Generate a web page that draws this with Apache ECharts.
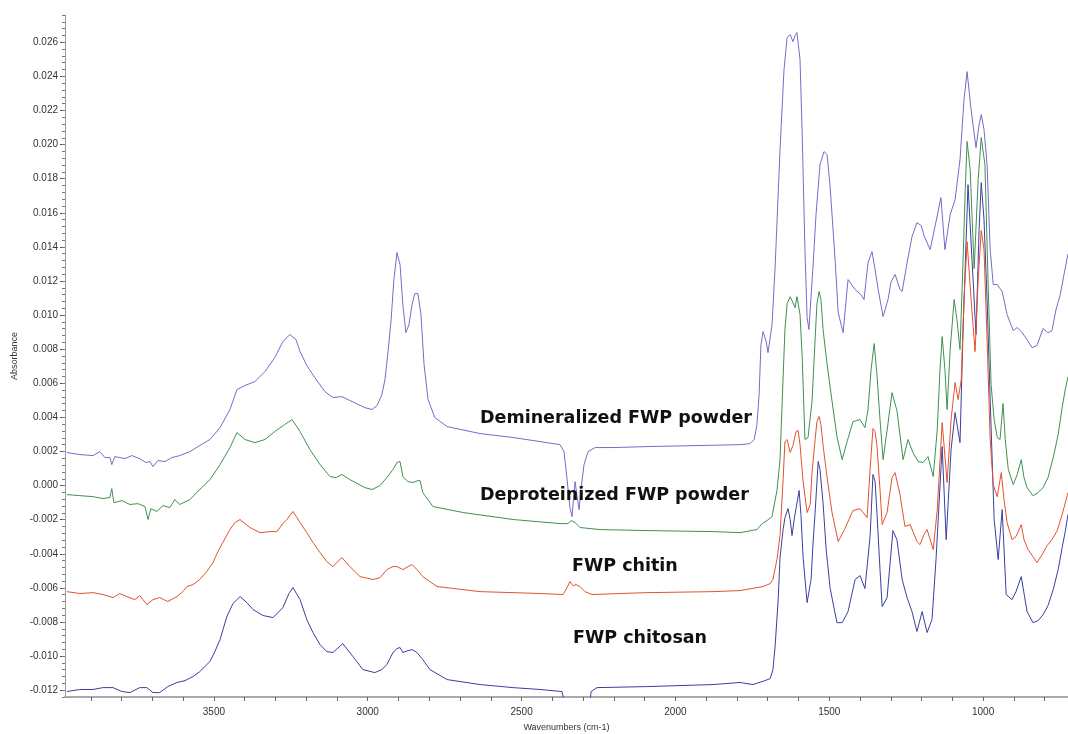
<!DOCTYPE html>
<html><head><meta charset="utf-8">
<script src="https://cdn.jsdelivr.net/npm/echarts@6/dist/echarts.min.js"></script>
<style>html,body{margin:0;padding:0;background:#fff}#c{width:1068px;height:734px}</style>
</head><body><div id="c"></div>
<script>
// Wavenumber (cm-1), absorbance pairs
const demineralized = [
[3978,0.00194],[3936,0.00182],[3893,0.00176],[3871,0.00199],[3854,0.00164],[3838,0.00164],[3832,0.00123],[3822,0.0017],[3789,0.00158],[3767,0.00176],[3741,0.00158],[3721,0.00135],[3708,0.00141],[3698,0.00111],[3682,0.00147],[3659,0.00141],[3637,0.00164],[3611,0.00176],[3578,0.00199],[3546,0.00235],[3513,0.0027],[3480,0.0034],[3448,0.00446],[3425,0.00563],[3399,0.00587],[3367,0.0061],[3334,0.00669],[3302,0.00751],[3276,0.00845],[3253,0.00886],[3233,0.00856],[3220,0.00786],[3198,0.00704],[3172,0.00633],[3139,0.00551],[3113,0.00516],[3084,0.00522],[3058,0.00499],[3009,0.00457],[2986,0.00446],[2970,0.00469],[2954,0.00534],[2944,0.00622],[2934,0.00786],[2924,0.00974],[2915,0.01208],[2905,0.01367],[2895,0.01296],[2886,0.01062],[2876,0.00897],[2866,0.00944],[2856,0.01062],[2847,0.01126],[2837,0.01126],[2827,0.01003],[2817,0.0071],[2804,0.00504],[2782,0.00399],[2742,0.00346],[2635,0.00305],[2528,0.00282],[2440,0.00258],[2375,0.0024],[2362,0.00199],[2352,0.00035],[2343,-0.00129],[2336,-0.00182],[2330,-0.00053],[2326,0.00023],[2320,-0.00059],[2313,-0.00141],[2307,-0.00023],[2297,0.00123],[2284,0.00199],[2261,0.00223],[2203,0.00223],[2083,0.00229],[1920,0.00235],[1790,0.0024],[1758,0.00246],[1744,0.0027],[1735,0.00358],[1728,0.00534],[1722,0.00827],[1715,0.00903],[1705,0.00845],[1699,0.0078],[1686,0.00944],[1676,0.01279],[1660,0.01971],[1647,0.0244],[1637,0.02628],[1627,0.02645],[1618,0.02604],[1611,0.02639],[1605,0.02657],[1595,0.02498],[1588,0.02064],[1579,0.01384],[1572,0.00985],[1566,0.00915],[1553,0.01279],[1543,0.01589],[1530,0.01883],[1517,0.01959],[1507,0.01941],[1497,0.01748],[1481,0.01325],[1471,0.01015],[1455,0.00897],[1439,0.01208],[1416,0.0115],[1397,0.0112],[1387,0.01091],[1374,0.01308],[1361,0.01372],[1351,0.01267],[1341,0.0115],[1325,0.00991],[1309,0.01091],[1299,0.01196],[1286,0.01238],[1270,0.0115],[1263,0.01138],[1247,0.01308],[1231,0.0146],[1215,0.01542],[1201,0.01525],[1192,0.01466],[1172,0.01384],[1153,0.01548],[1137,0.01689],[1124,0.01384],[1107,0.01589],[1091,0.01677],[1075,0.01912],[1062,0.02264],[1052,0.02428],[1039,0.02205],[1023,0.01982],[1013,0.02117],[1006,0.02176],[997,0.02088],[987,0.01883],[977,0.01384],[967,0.01179],[954,0.01179],[938,0.01138],[922,0.01003],[902,0.00909],[889,0.00927],[873,0.00897],[857,0.00856],[841,0.00809],[825,0.00821],[805,0.00921],[789,0.00897],[776,0.00909],[763,0.01032],[750,0.01114],[737,0.01238],[724,0.0136]
];
const deproteinized = [
[3978,-0.00053],[3936,-0.00059],[3893,-0.00065],[3861,-0.00076],[3838,-0.0007],[3832,-0.00018],[3825,-0.001],[3799,-0.00088],[3773,-0.00111],[3747,-0.00106],[3724,-0.00123],[3714,-0.00199],[3705,-0.00135],[3685,-0.00152],[3666,-0.00117],[3643,-0.00129],[3627,-0.00082],[3611,-0.00111],[3578,-0.00082],[3546,-0.00023],[3513,0.00035],[3480,0.00123],[3448,0.00223],[3425,0.00311],[3399,0.0027],[3367,0.00252],[3334,0.0027],[3302,0.00317],[3270,0.00358],[3246,0.00387],[3220,0.00317],[3188,0.00211],[3155,0.00123],[3123,0.00053],[3103,0.00047],[3084,0.00065],[3058,0.00035],[3009,-0.00012],[2986,-0.00023],[2960,0.0],[2938,0.00047],[2918,0.00094],[2905,0.00135],[2895,0.00141],[2886,0.00053],[2869,0.00023],[2853,0.00018],[2837,0.00029],[2830,0.00029],[2821,-0.00041],[2788,-0.00123],[2690,-0.00158],[2528,-0.00199],[2375,-0.00223],[2349,-0.00223],[2339,-0.00205],[2326,-0.00217],[2310,-0.00246],[2245,-0.00258],[2092,-0.00264],[1878,-0.0027],[1790,-0.00276],[1735,-0.00258],[1718,-0.00223],[1702,-0.00205],[1686,-0.00182],[1670,-0.00029],[1660,0.00152],[1653,0.00493],[1644,0.00915],[1637,0.01067],[1627,0.01108],[1621,0.01097],[1611,0.01044],[1605,0.01108],[1595,0.01003],[1588,0.00757],[1579,0.0027],[1569,0.00282],[1556,0.00493],[1546,0.00856],[1540,0.01067],[1533,0.01138],[1527,0.01091],[1520,0.00915],[1507,0.0071],[1497,0.00575],[1475,0.00287],[1458,0.00152],[1442,0.00258],[1423,0.00375],[1400,0.00387],[1384,0.0034],[1374,0.00446],[1364,0.0068],[1354,0.00833],[1345,0.00651],[1335,0.00387],[1325,0.00152],[1309,0.00364],[1296,0.00545],[1280,0.0044],[1260,0.00152],[1244,0.0027],[1228,0.00194],[1211,0.00141],[1195,0.00135],[1179,0.0017],[1162,0.00053],[1149,0.00328],[1140,0.0068],[1133,0.00874],[1124,0.0068],[1117,0.00446],[1107,0.00798],[1094,0.01091],[1085,0.00974],[1075,0.00798],[1065,0.01325],[1058,0.01736],[1052,0.02018],[1042,0.01853],[1029,0.01273],[1016,0.01795],[1006,0.02041],[994,0.01883],[984,0.01208],[974,0.00592],[964,0.00387],[954,0.00282],[945,0.0027],[935,0.00481],[928,0.0027],[918,0.00094],[902,0.00006],[889,0.00065],[876,0.00152],[867,0.00047],[857,-0.00012],[838,-0.00059],[821,-0.00041],[805,-0.00012],[789,0.00047],[772,0.00164],[756,0.00299],[743,0.00457],[733,0.00563],[724,0.00639]
];
const chitin = [
[3978,-0.00622],[3936,-0.00633],[3893,-0.00628],[3861,-0.00639],[3828,-0.00657],[3806,-0.00633],[3783,-0.00651],[3757,-0.00669],[3741,-0.00645],[3718,-0.00698],[3698,-0.00669],[3676,-0.00657],[3650,-0.0068],[3620,-0.00651],[3601,-0.00622],[3588,-0.00592],[3568,-0.00581],[3546,-0.00551],[3523,-0.00504],[3503,-0.00452],[3487,-0.00387],[3471,-0.00334],[3448,-0.00258],[3432,-0.00217],[3415,-0.00199],[3399,-0.00223],[3383,-0.00246],[3350,-0.00276],[3318,-0.0027],[3295,-0.0027],[3276,-0.00223],[3263,-0.00199],[3243,-0.00152],[3230,-0.00188],[3220,-0.00217],[3198,-0.00276],[3178,-0.00334],[3155,-0.00393],[3133,-0.00446],[3113,-0.00475],[3084,-0.00422],[3058,-0.00475],[3025,-0.00534],[2983,-0.00551],[2960,-0.0054],[2938,-0.00493],[2918,-0.00475],[2905,-0.00475],[2886,-0.00493],[2869,-0.00475],[2856,-0.00463],[2840,-0.00493],[2821,-0.00534],[2798,-0.00563],[2775,-0.00592],[2635,-0.00622],[2528,-0.00628],[2440,-0.00633],[2365,-0.00639],[2352,-0.00598],[2343,-0.00563],[2333,-0.00587],[2323,-0.00581],[2310,-0.00592],[2294,-0.00622],[2271,-0.00639],[2180,-0.00633],[2092,-0.00628],[1878,-0.00622],[1790,-0.00616],[1715,-0.00592],[1692,-0.00575],[1683,-0.00551],[1670,-0.00434],[1660,-0.00293],[1650,0.00035],[1644,0.00258],[1637,0.0027],[1627,0.00194],[1618,0.00235],[1608,0.00317],[1601,0.00323],[1595,0.0024],[1585,0.00023],[1572,-0.00158],[1562,-0.00111],[1556,0.00076],[1546,0.0027],[1540,0.00375],[1533,0.00405],[1527,0.00358],[1520,0.00235],[1507,0.00047],[1491,-0.00158],[1471,-0.00328],[1449,-0.00252],[1423,-0.00147],[1400,-0.00135],[1377,-0.00188],[1367,0.001],[1358,0.00334],[1351,0.00317],[1345,0.00235],[1335,-0.00023],[1328,-0.00229],[1312,-0.00158],[1296,0.00047],[1286,0.00076],[1270,-0.00053],[1254,-0.0024],[1237,-0.00229],[1228,-0.0027],[1215,-0.00328],[1205,-0.00346],[1192,-0.00287],[1182,-0.00258],[1162,-0.00375],[1149,-0.00141],[1133,0.00369],[1117,0.00018],[1104,0.00387],[1091,0.00604],[1081,0.00504],[1071,0.00622],[1062,0.01091],[1052,0.01431],[1039,0.01091],[1026,0.00786],[1016,0.01208],[1006,0.01496],[997,0.01384],[987,0.00856],[977,0.0027],[967,0.00006],[954,-0.00065],[941,0.00076],[932,-0.00082],[922,-0.00217],[906,-0.00317],[893,-0.00299],[876,-0.00229],[867,-0.00317],[854,-0.00375],[838,-0.00416],[825,-0.00452],[808,-0.00405],[792,-0.00352],[776,-0.00317],[759,-0.00264],[743,-0.0017],[724,-0.00041]
];
const chitosan = [
[3978,-0.01208],[3936,-0.01196],[3893,-0.01196],[3861,-0.01185],[3828,-0.01185],[3799,-0.01208],[3773,-0.01214],[3741,-0.01185],[3718,-0.01185],[3698,-0.01214],[3676,-0.01214],[3650,-0.01179],[3620,-0.01155],[3594,-0.01144],[3568,-0.0112],[3546,-0.01091],[3513,-0.01032],[3497,-0.00974],[3480,-0.00903],[3458,-0.00768],[3438,-0.00692],[3415,-0.00651],[3393,-0.00686],[3373,-0.00727],[3341,-0.00762],[3308,-0.00774],[3276,-0.00716],[3256,-0.00633],[3243,-0.00598],[3230,-0.00639],[3220,-0.00669],[3198,-0.00786],[3178,-0.00862],[3155,-0.00933],[3133,-0.00974],[3113,-0.00979],[3081,-0.00927],[3048,-0.01003],[3016,-0.01079],[2977,-0.01097],[2954,-0.01079],[2938,-0.0105],[2918,-0.00979],[2905,-0.00956],[2895,-0.0095],[2886,-0.00979],[2869,-0.00968],[2856,-0.00962],[2840,-0.00979],[2821,-0.01021],[2798,-0.01079],[2742,-0.01138],[2635,-0.01167],[2528,-0.01185],[2440,-0.01196],[2369,-0.01208],[2362,-0.01255],[2355,-0.01372],[2326,-0.0149],[2294,-0.0149],[2281,-0.01314],[2274,-0.01208],[2255,-0.01185],[2092,-0.01179],[1878,-0.01167],[1790,-0.01155],[1748,-0.01167],[1709,-0.01144],[1692,-0.01132],[1683,-0.01079],[1676,-0.00944],[1666,-0.00669],[1660,-0.00422],[1650,-0.00258],[1644,-0.00188],[1634,-0.00135],[1627,-0.00199],[1621,-0.00293],[1614,-0.00199],[1608,-0.00135],[1598,-0.00029],[1592,-0.0017],[1585,-0.00422],[1572,-0.00686],[1559,-0.00551],[1553,-0.00346],[1546,-0.00158],[1536,0.00141],[1530,0.00094],[1520,-0.00106],[1510,-0.00375],[1497,-0.00604],[1475,-0.00804],[1458,-0.00804],[1439,-0.00739],[1416,-0.00551],[1400,-0.00528],[1384,-0.00604],[1367,-0.00293],[1358,0.00065],[1351,0.00023],[1345,-0.00158],[1335,-0.00493],[1328,-0.0071],[1312,-0.00657],[1293,-0.00264],[1280,-0.00317],[1263,-0.00551],[1247,-0.00657],[1231,-0.00739],[1215,-0.00856],[1198,-0.00739],[1182,-0.00862],[1166,-0.00786],[1153,-0.00434],[1133,0.00229],[1120,-0.00317],[1104,0.00211],[1091,0.00428],[1075,0.00252],[1065,0.00915],[1049,0.01765],[1036,0.01325],[1023,0.00886],[1013,0.01501],[1006,0.01777],[997,0.0156],[987,0.01091],[977,0.00504],[964,-0.00199],[951,-0.00434],[938,-0.00141],[925,-0.00639],[906,-0.00669],[893,-0.00622],[876,-0.00534],[857,-0.00739],[838,-0.00804],[821,-0.00792],[805,-0.00757],[789,-0.00704],[772,-0.0061],[756,-0.00493],[743,-0.00364],[733,-0.0027],[724,-0.0017]
];
const seriesNames = ['Demineralized FWP powder','Deproteinized FWP powder','FWP chitin','FWP chitosan'];
const seriesColors = ['#7b68c9','#3f9150','#e2522e','#3a3f9e'];
const xTickLabels = [1000,1500,2000,2500,3000,3500];
const yTickLabels = [-0.012,-0.010,-0.008,-0.006,-0.004,-0.002,0.000,0.002,0.004,0.006,0.008,0.010,0.012,0.014,0.016,0.018,0.020,0.022,0.024,0.026];

const xMinor = []; for (let v = 800; v <= 3900; v += 100) xMinor.push(v);
const yMinor = []; for (let i = -31; i <= 69; i++) yMinor.push(+(i*0.0004).toFixed(4));

const X_MIN = 724, X_MAX = 3984, Y_MIN = -0.0124, Y_MAX = 0.0276;
const chart = echarts.init(document.getElementById('c'), null, {renderer:'canvas'});
const labelFont = {fontFamily:'Liberation Sans, Arial, sans-serif', fontSize:10, color:'#333'};
const annotations = [
  {text: seriesNames[0], left: 480, top: 409},
  {text: seriesNames[1], left: 480, top: 486},
  {text: seriesNames[2], left: 572, top: 557},
  {text: seriesNames[3], left: 573, top: 629}
];
chart.setOption({
  animation:false,
  backgroundColor:'#ffffff',
  grid:{left:65, right:0, top:15, bottom:37, containLabel:false, outerBoundsMode:'none'},
  xAxis:[{
    type:'value', min:X_MIN, max:X_MAX, inverse:true,
    name:'Wavenumbers (cm-1)', nameLocation:'middle', nameGap:26,
    nameTextStyle:{fontFamily:'Liberation Sans, Arial, sans-serif', fontSize:9, color:'#333'},
    axisLine:{show:true, onZero:false, lineStyle:{color:'#aaaaaa', width:2}},
    axisTick:{show:true, customValues:xMinor, length:4, lineStyle:{color:'#666'}},
    axisLabel:{show:true, customValues:xTickLabels, margin:10, formatter:v=>String(v), ...labelFont},
    splitLine:{show:false}
  }],
  yAxis:[{
    type:'value', min:Y_MIN, max:Y_MAX, position:'left',
    name:'Absorbance', nameLocation:'middle', nameGap:46, nameRotate:90,
    nameTextStyle:{fontFamily:'Liberation Sans, Arial, sans-serif', fontSize:9, color:'#333'},
    axisLine:{show:true, onZero:false, lineStyle:{color:'#999999', width:1}},
    axisTick:{show:true, customValues:yTickLabels, length:5, lineStyle:{color:'#555'}},
    axisLabel:{show:true, customValues:yTickLabels, margin:7, formatter:v=>v.toFixed(3), ...labelFont},
    splitLine:{show:false}
  },{
    type:'value', min:Y_MIN, max:Y_MAX, position:'left', offset:0,
    axisLine:{show:false, onZero:false},
    axisTick:{show:true, customValues:yMinor, length:3, lineStyle:{color:'#777'}},
    axisLabel:{show:false},
    splitLine:{show:false}
  }],
  series:[demineralized, deproteinized, chitin, chitosan].map((d,i)=>({
    name:seriesNames[i], type:'line', data:d, showSymbol:false, symbol:'none',
    clip:true, smooth:false, yAxisIndex:0,
    lineStyle:{color:seriesColors[i], width:1}, itemStyle:{color:seriesColors[i]},
    z: 4 - i
  })),
  graphic: annotations.map(a=>({
    type:'text', left:a.left, top:a.top, z:10,
    style:{text:a.text, fill:'#111', font:'bold 17.5px "DejaVu Sans", Verdana, sans-serif'}
  }))
});
</script></body></html>
